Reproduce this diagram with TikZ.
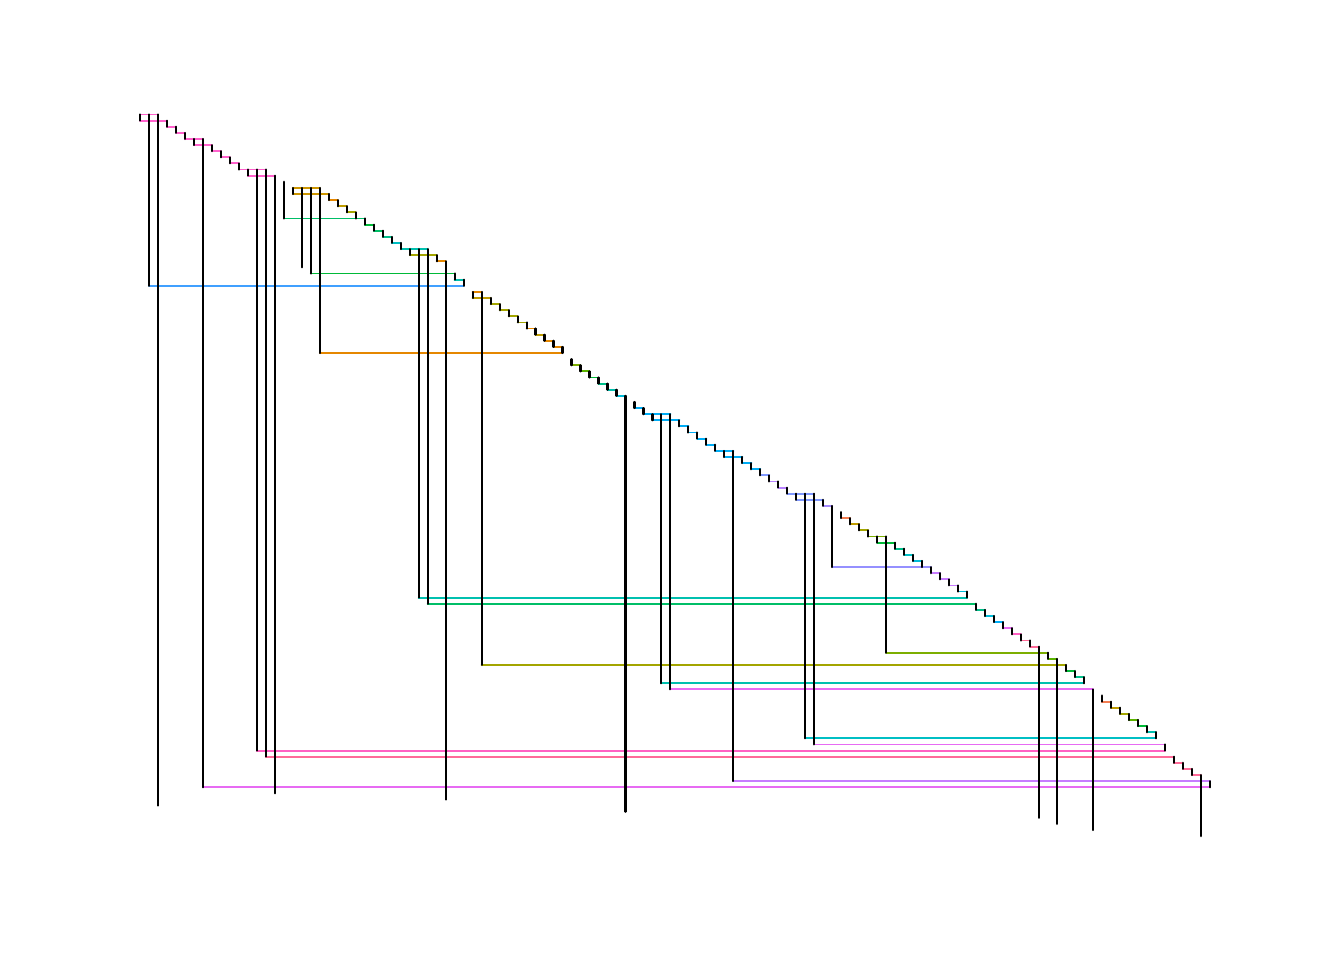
\documentclass[tikz,border=0pt]{standalone}
\usepackage{tikz}
\definecolor{pinkA}{HTML}{FF61CC}
\definecolor{gold}{HTML}{CD9600}
\definecolor{orng}{HTML}{E58700}
\definecolor{dyel}{HTML}{BF9C00}
\definecolor{olive}{HTML}{A3A500}
\definecolor{ygreen}{HTML}{7CAE00}
\definecolor{greenA}{HTML}{5BB300}
\definecolor{green}{HTML}{00BA38}
\definecolor{greenB}{HTML}{00BE67}
\definecolor{tgreen}{HTML}{00C08B}
\definecolor{teal}{HTML}{00C0AF}
\definecolor{tealB}{HTML}{00BFC4}
\definecolor{cyan}{HTML}{00BCD8}
\definecolor{sky}{HTML}{00ADF6}
\definecolor{skyB}{HTML}{40A0FF}
\definecolor{lav}{HTML}{7F98FF}
\definecolor{lavB}{HTML}{A58AFF}
\definecolor{lavC}{HTML}{9590FF}
\definecolor{purpA}{HTML}{B983FF}
\definecolor{purp}{HTML}{C77CFF}
\definecolor{magenta}{HTML}{E76BF3}
\definecolor{pink}{HTML}{FF61C3}
\definecolor{rose}{HTML}{FF6A98}
\definecolor{salmon}{HTML}{F47E52}
\tikzset{
  hline/.style={line width=1.4pt, line cap=round},
  vline/.style={line width=1.6pt, line cap=round, draw=black}
}
\begin{document}
\begin{tikzpicture}[x=6.7425pt, y=-4.587pt]
\useasboundingbox (-15.573,-18.721) rectangle (133.927,138.244);
\fill[white] (-15.573,-18.721) rectangle (133.927,138.244);
% horizontal coloured segments: row / start / end / colour
\foreach \k/\a/\b/\c in {
0/0/2/pinkA, 1/0/3/pinkA, 2/3/4/pinkA, 3/4/5/pinkA, 4/5/7/pinkA, 5/6/8/pinkA,
6/8/9/pinkA, 7/9/10/pinkA, 8/10/11/pinkA, 9/11/14/pinkA, 10/12/15/pinkA,
12/17/20/gold, 13/17/21/gold, 14/21/22/orng, 15/22/23/dyel, 16/23/24/olive,
17/16/25/greenB, 18/25/26/green, 19/26/27/greenB, 20/27/28/tgreen, 21/28/29/tealB,
22/29/32/teal, 23/30/33/olive, 24/33/34/orng, 26/19/35/green, 27/35/36/teal,
28/1/36/skyB,
29/37/38/orng, 30/37/39/dyel, 31/39/40/olive, 32/40/41/olive, 33/41/42/olive,
34/42/43/olive, 35/43/44/orng, 36/44/45/dyel, 37/45/46/orng, 38/46/47/orng,
39/20/47/orng,
41/48/49/ygreen, 42/49/50/greenA, 43/50/51/green, 44/51/52/tgreen, 45/52/53/teal,
46/53/54/cyan,
48/55/56/sky, 49/56/59/sky, 50/57/60/sky, 51/60/61/sky, 52/61/62/sky, 53/62/63/sky,
54/63/64/sky, 55/64/66/sky, 56/65/67/sky, 57/67/68/sky, 58/68/69/sky, 59/69/70/lav,
60/70/71/purpA, 61/71/72/purpA, 62/72/75/lav, 63/73/76/lav, 64/76/77/lavB,
66/78/79/salmon, 67/79/80/dyel, 68/80/81/olive, 69/81/83/ygreen, 70/82/84/green,
71/84/85/tgreen, 72/85/86/tealB, 73/86/87/cyan, 74/77/88/lavC, 75/88/89/purp,
76/89/90/purp, 77/90/91/purp, 78/91/92/cyan, 79/31/92/teal, 80/32/93/greenB,
81/93/94/tgreen, 82/94/95/cyan, 83/95/96/sky, 84/96/97/magenta, 85/97/98/pink,
86/98/99/rose, 87/99/100/rose, 88/83/101/ygreen, 89/101/102/greenA, 90/38/103/olive,
91/103/104/green, 92/104/105/tgreen, 93/58/105/teal, 94/59/106/magenta,
96/107/108/salmon, 97/108/109/dyel, 98/109/110/olive, 99/110/111/greenA,
100/111/112/green, 101/112/113/teal, 102/74/113/tealB, 103/75/114/magenta,
104/13/114/pink, 105/14/115/rose, 106/115/116/rose, 107/116/117/rose,
108/117/118/rose, 109/66/119/purp, 110/7/119/magenta}
  {\draw[hline, draw=\c] (\a,\k) -- (\b,\k);}
% black vertical segments: column / from row / to row
\foreach \j/\r/\s in {
0/0/1, 3/1/2, 4/2/3, 5/3/4, 6/4/5, 8/5/6, 9/6/7, 10/7/8, 11/8/9, 12/9/10,
16/11/17, 17/12/13, 21/13/14, 22/14/15, 23/15/16, 24/16/17, 25/17/18, 26/18/19,
27/19/20, 28/20/21, 29/21/22, 30/22/23, 33/23/24, 35/26/27, 36/27/28,
37/29/30, 39/30/31, 40/31/32, 41/32/33, 42/33/34, 43/34/35, 44/35/36, 45/36/37,
46/37/38, 47/38/39,
48/40/41, 49/41/42, 50/42/43, 51/43/44, 52/44/45, 53/45/46,
55/47/48, 56/48/49, 57/49/50, 60/50/51, 61/51/52, 62/52/53, 63/53/54, 64/54/55,
65/55/56, 67/56/57, 68/57/58, 69/58/59, 70/59/60, 71/60/61, 72/61/62, 73/62/63,
76/63/64,
78/65/66, 79/66/67, 80/67/68, 81/68/69, 82/69/70, 84/70/71, 85/71/72, 86/72/73,
87/73/74, 88/74/75, 89/75/76, 90/76/77, 91/77/78, 92/78/79, 93/80/81, 94/81/82,
95/82/83, 96/83/84, 97/84/85, 98/85/86, 99/86/87, 101/88/89, 103/90/91,
104/91/92, 105/92/93,
107/95/96, 108/96/97, 109/97/98, 110/98/99, 111/99/100, 112/100/101, 113/101/102,
114/103/104, 115/105/106, 116/106/107, 117/107/108, 119/109/110,
1/0/28, 2/0/113, 7/4/110, 13/9/104, 14/9/105, 15/10/111, 18/12/25, 19/12/26,
20/12/39, 31/22/79, 32/22/80, 34/24/112, 38/29/90, 54/46/114, 58/49/93,
59/49/94, 66/55/109, 74/62/102, 75/62/103, 77/64/74, 83/69/88, 100/87/115,
102/89/116, 106/94/117, 118/108/118}
  {\draw[vline] (\j,\r) -- (\j,\s);}
\end{tikzpicture}
\end{document}
